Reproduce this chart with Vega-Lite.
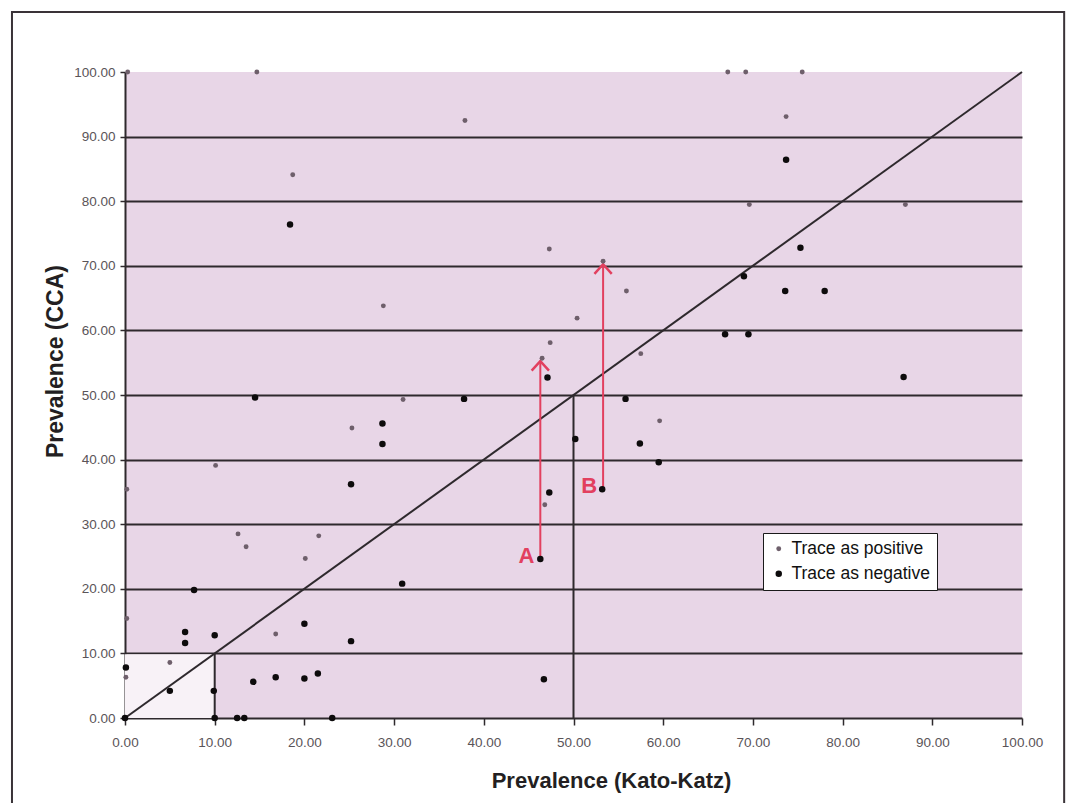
{
  "$schema": "https://vega.github.io/schema/vega-lite/v6.json",
  "width": 897,
  "height": 646,
  "autosize": {"type": "none"},
  "padding": {"left": 125, "top": 72, "right": 50, "bottom": 85},
  "background": "white",
  "config": {
    "view": {"fill": "#e8d6e7", "stroke": null},
    "font": "Liberation Sans"
  },
  "datasets": {
    "points": [
      {"kk": 0.3, "cca": 100, "trace": "Trace as positive"},
      {"kk": 14.7, "cca": 100, "trace": "Trace as positive"},
      {"kk": 18.7, "cca": 84.1, "trace": "Trace as positive"},
      {"kk": 37.9, "cca": 92.5, "trace": "Trace as positive"},
      {"kk": 47.3, "cca": 72.6, "trace": "Trace as positive"},
      {"kk": 53.3, "cca": 70.7, "trace": "Trace as positive"},
      {"kk": 67.2, "cca": 100, "trace": "Trace as positive"},
      {"kk": 69.2, "cca": 100, "trace": "Trace as positive"},
      {"kk": 75.5, "cca": 100, "trace": "Trace as positive"},
      {"kk": 73.7, "cca": 93.1, "trace": "Trace as positive"},
      {"kk": 69.6, "cca": 79.5, "trace": "Trace as positive"},
      {"kk": 87.0, "cca": 79.5, "trace": "Trace as positive"},
      {"kk": 28.8, "cca": 63.8, "trace": "Trace as positive"},
      {"kk": 25.3, "cca": 44.9, "trace": "Trace as positive"},
      {"kk": 10.1, "cca": 39.1, "trace": "Trace as positive"},
      {"kk": 55.9, "cca": 66.1, "trace": "Trace as positive"},
      {"kk": 50.4, "cca": 61.9, "trace": "Trace as positive"},
      {"kk": 47.4, "cca": 58.1, "trace": "Trace as positive"},
      {"kk": 46.5, "cca": 55.7, "trace": "Trace as positive"},
      {"kk": 57.5, "cca": 56.4, "trace": "Trace as positive"},
      {"kk": 31.0, "cca": 49.3, "trace": "Trace as positive"},
      {"kk": 59.6, "cca": 46.0, "trace": "Trace as positive"},
      {"kk": 46.8, "cca": 33.0, "trace": "Trace as positive"},
      {"kk": 0.2, "cca": 35.4, "trace": "Trace as positive"},
      {"kk": 12.6, "cca": 28.5, "trace": "Trace as positive"},
      {"kk": 13.5, "cca": 26.5, "trace": "Trace as positive"},
      {"kk": 21.6, "cca": 28.2, "trace": "Trace as positive"},
      {"kk": 20.1, "cca": 24.7, "trace": "Trace as positive"},
      {"kk": 0.2, "cca": 15.4, "trace": "Trace as positive"},
      {"kk": 16.8, "cca": 13.0, "trace": "Trace as positive"},
      {"kk": 5.0, "cca": 8.6, "trace": "Trace as positive"},
      {"kk": 0.1, "cca": 6.3, "trace": "Trace as positive"},
      {"kk": 18.4, "cca": 76.4, "trace": "Trace as negative"},
      {"kk": 73.7, "cca": 86.4, "trace": "Trace as negative"},
      {"kk": 75.3, "cca": 72.8, "trace": "Trace as negative"},
      {"kk": 69.0, "cca": 68.4, "trace": "Trace as negative"},
      {"kk": 73.6, "cca": 66.1, "trace": "Trace as negative"},
      {"kk": 78.0, "cca": 66.1, "trace": "Trace as negative"},
      {"kk": 66.9, "cca": 59.4, "trace": "Trace as negative"},
      {"kk": 69.5, "cca": 59.4, "trace": "Trace as negative"},
      {"kk": 86.8, "cca": 52.8, "trace": "Trace as negative"},
      {"kk": 14.5, "cca": 49.6, "trace": "Trace as negative"},
      {"kk": 28.7, "cca": 45.6, "trace": "Trace as negative"},
      {"kk": 28.7, "cca": 42.4, "trace": "Trace as negative"},
      {"kk": 25.2, "cca": 36.2, "trace": "Trace as negative"},
      {"kk": 47.1, "cca": 52.7, "trace": "Trace as negative"},
      {"kk": 37.8, "cca": 49.4, "trace": "Trace as negative"},
      {"kk": 55.8, "cca": 49.4, "trace": "Trace as negative"},
      {"kk": 50.2, "cca": 43.2, "trace": "Trace as negative"},
      {"kk": 57.4, "cca": 42.5, "trace": "Trace as negative"},
      {"kk": 59.5, "cca": 39.6, "trace": "Trace as negative"},
      {"kk": 53.2, "cca": 35.4, "trace": "Trace as negative"},
      {"kk": 47.3, "cca": 34.9, "trace": "Trace as negative"},
      {"kk": 46.3, "cca": 24.6, "trace": "Trace as negative"},
      {"kk": 30.9, "cca": 20.8, "trace": "Trace as negative"},
      {"kk": 46.7, "cca": 6.0, "trace": "Trace as negative"},
      {"kk": 7.7, "cca": 19.8, "trace": "Trace as negative"},
      {"kk": 6.7, "cca": 13.3, "trace": "Trace as negative"},
      {"kk": 6.7, "cca": 11.6, "trace": "Trace as negative"},
      {"kk": 10.0, "cca": 12.8, "trace": "Trace as negative"},
      {"kk": 20.0, "cca": 14.6, "trace": "Trace as negative"},
      {"kk": 25.2, "cca": 11.9, "trace": "Trace as negative"},
      {"kk": 0.1, "cca": 7.8, "trace": "Trace as negative"},
      {"kk": 5.0, "cca": 4.2, "trace": "Trace as negative"},
      {"kk": 9.9, "cca": 4.2, "trace": "Trace as negative"},
      {"kk": 14.3, "cca": 5.6, "trace": "Trace as negative"},
      {"kk": 16.8, "cca": 6.3, "trace": "Trace as negative"},
      {"kk": 20.0, "cca": 6.1, "trace": "Trace as negative"},
      {"kk": 21.5, "cca": 6.9, "trace": "Trace as negative"},
      {"kk": 0.0, "cca": 0.0, "trace": "Trace as negative"},
      {"kk": 10.0, "cca": 0.0, "trace": "Trace as negative"},
      {"kk": 12.5, "cca": 0.0, "trace": "Trace as negative"},
      {"kk": 13.3, "cca": 0.0, "trace": "Trace as negative"},
      {"kk": 23.1, "cca": 0.0, "trace": "Trace as negative"}
    ],
    "arrows": [
      {"label": "A", "kk": 46.3, "from": 24.6, "to": 55.3, "head": 54.5},
      {"label": "B", "kk": 53.3, "from": 35.4, "to": 70.3, "head": 69.5}
    ],
    "one": [{}]
  },
  "layer": [
    {
      "data": {"name": "one"},
      "mark": {"type": "rect", "fill": "#f8f2f7"},
      "encoding": {
        "x": {"datum": 0, "type": "quantitative", "scale": {"domain": [0, 100], "nice": false}},
        "x2": {"datum": 10},
        "y": {"datum": 0, "type": "quantitative", "scale": {"domain": [0, 100], "nice": false}},
        "y2": {"datum": 9.85}
      }
    },
    {
      "data": {"name": "one"},
      "mark": {"type": "rect", "fill": null, "stroke": "#3a3338", "strokeWidth": 2},
      "encoding": {
        "x": {"datum": -12.6, "type": "quantitative"},
        "x2": {"datum": 104.7},
        "y": {"datum": 109.3, "type": "quantitative"},
        "y2": {"datum": -16}
      }
    },
    {
      "data": {"name": "one"},
      "mark": {"type": "rule", "color": "#2e292d", "strokeWidth": 2},
      "encoding": {
        "x": {"datum": 0, "type": "quantitative"},
        "x2": {"datum": 100},
        "y": {"datum": 0, "type": "quantitative"},
        "y2": {"datum": 100}
      }
    },
    {
      "data": {"name": "one"},
      "mark": {"type": "rule", "color": "#2e292d", "strokeWidth": 2},
      "encoding": {
        "x": {"datum": 10, "type": "quantitative"},
        "y": {"datum": 0, "type": "quantitative"},
        "y2": {"datum": 10}
      }
    },
    {
      "data": {"name": "one"},
      "mark": {"type": "rule", "color": "#2e292d", "strokeWidth": 2},
      "encoding": {
        "x": {"datum": 50, "type": "quantitative"},
        "y": {"datum": 0, "type": "quantitative"},
        "y2": {"datum": 50}
      }
    },
    {
      "data": {"name": "arrows"},
      "mark": {"type": "rule", "color": "#e2405f", "strokeWidth": 2},
      "encoding": {
        "x": {"field": "kk", "type": "quantitative"},
        "y": {"field": "from", "type": "quantitative"},
        "y2": {"field": "to"}
      }
    },
    {
      "data": {"name": "arrows"},
      "mark": {"type": "point", "shape": "M-1,0.55L0,-0.55L1,0.55", "filled": false, "color": "#e2405f", "strokeWidth": 2.5, "size": 300, "opacity": 1},
      "encoding": {
        "x": {"field": "kk", "type": "quantitative"},
        "y": {"field": "head", "type": "quantitative"}
      }
    },
    {
      "data": {"name": "points"},
      "mark": {"type": "point", "filled": true, "shape": "circle", "opacity": 1},
      "encoding": {
        "x": {
          "field": "kk", "type": "quantitative",
          "scale": {"domain": [0, 100], "nice": false},
          "axis": {
            "values": [0, 10, 20, 30, 40, 50, 60, 70, 80, 90, 100],
            "format": ".2f",
            "grid": false,
            "labelFont": "Liberation Sans",
            "labelFontSize": 13.5,
            "labelColor": "#5a5458",
            "labelBaseline": "middle",
            "labelPadding": 17,
            "labelFlush": false,
            "tickColor": "#2e292d",
            "tickSize": 7,
            "tickWidth": 1.5,
            "domainColor": "#2e292d",
            "domainWidth": 2,
            "title": "Prevalence (Kato-Katz)",
            "titleFont": "Liberation Sans",
            "titleFontSize": 22,
            "titleFontWeight": "bold",
            "titleColor": "#231f22",
            "titleX": 486,
            "titleY": 62,
            "titleBaseline": "middle"
          }
        },
        "y": {
          "field": "cca", "type": "quantitative",
          "scale": {"domain": [0, 100], "nice": false},
          "axis": {
            "values": [0, 10, 20, 30, 40, 50, 60, 70, 80, 90, 100],
            "format": ".2f",
            "grid": true,
            "gridColor": "#2e292d",
            "gridWidth": 2,
            "gridOpacity": {"condition": {"test": "datum.value == 100 || datum.value == 0", "value": 0}, "value": 1},
            "labelFont": "Liberation Sans",
            "labelFontSize": 13.5,
            "labelColor": "#5a5458",
            "labelPadding": 5,
            "labelFlush": false,
            "tickColor": "#2e292d",
            "tickSize": 5,
            "tickWidth": 1.5,
            "domainColor": "#2e292d",
            "domainWidth": 2,
            "title": "Prevalence (CCA)",
            "titleFont": "Liberation Sans",
            "titleFontSize": 23,
            "titleFontWeight": "bold",
            "titleColor": "#231f22",
            "titleX": -70,
            "titleY": 289,
            "titleBaseline": "middle"
          }
        },
        "color": {
          "field": "trace", "type": "nominal",
          "scale": {"domain": ["Trace as positive", "Trace as negative"], "range": ["#6e5f6b", "#0d0b0c"]},
          "legend": {
            "title": null,
            "orient": "none",
            "legendX": 638,
            "legendY": 461,
            "fillColor": "white",
            "strokeColor": "#1a1a1a",
            "padding": 7,
            "labelFont": "Liberation Sans",
            "labelFontSize": 17.5,
            "labelColor": "#111111",
            "labelOffset": 4,
            "rowPadding": 6,
            "symbolSize": 18,
            "symbolType": "circle"
          }
        },
        "size": {
          "field": "trace", "type": "nominal",
          "scale": {"domain": ["Trace as positive", "Trace as negative"], "range": [24, 42]},
          "legend": null
        }
      }
    },
    {
      "data": {"name": "arrows"},
      "mark": {"type": "text", "color": "#e2405f", "font": "Liberation Sans", "fontSize": 22, "fontWeight": "bold", "align": "right", "baseline": "middle", "dx": -6, "dy": -3},
      "encoding": {
        "x": {"field": "kk", "type": "quantitative"},
        "y": {"field": "from", "type": "quantitative"},
        "text": {"field": "label"}
      }
    }
  ]
}
